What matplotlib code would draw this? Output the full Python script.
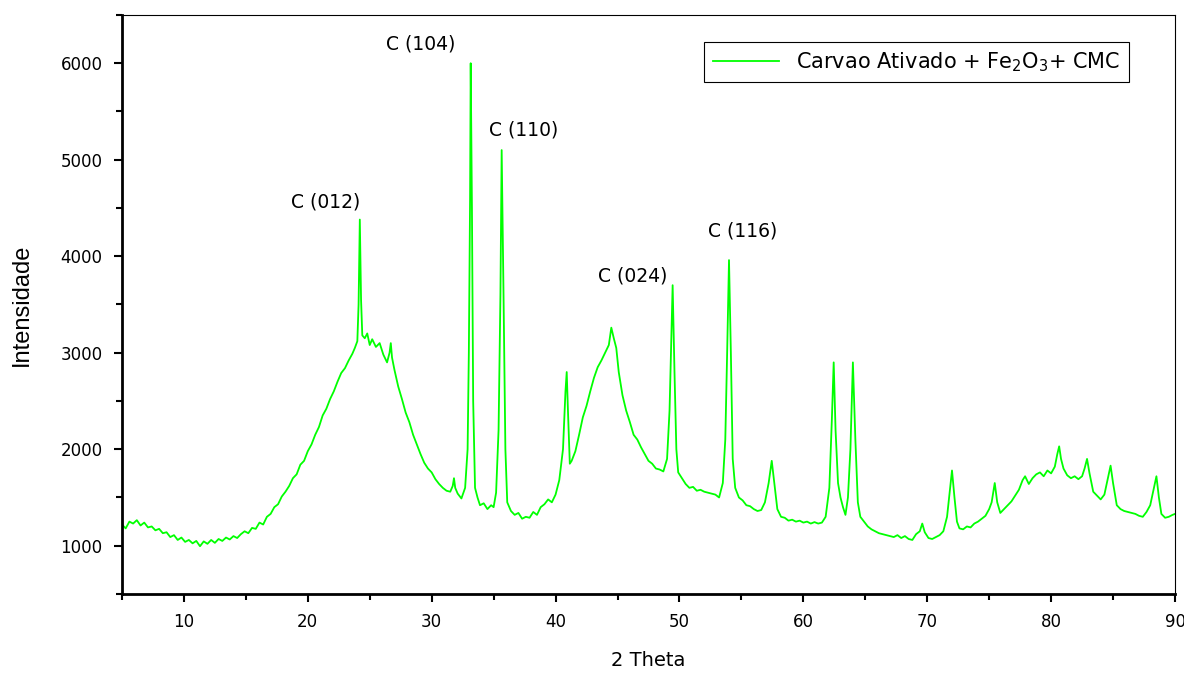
"""Difratograma de raios X - Carvao Ativado + Fe2O3 + CMC."""

import matplotlib
matplotlib.use("Agg")
import matplotlib.pyplot as plt
from matplotlib.ticker import MultipleLocator

two_theta = [
    5.0, 5.3, 5.6, 5.9, 6.2, 6.5, 6.8, 7.1, 7.4, 7.7, 8.0, 8.3, 8.6, 8.9,
    9.2, 9.5, 9.8, 10.1, 10.4, 10.7, 11.0, 11.3, 11.6, 11.9, 12.2, 12.5,
    12.8, 13.1, 13.4, 13.7, 14.0, 14.3, 14.6, 14.9, 15.2, 15.5, 15.8, 16.1,
    16.4, 16.7, 17.0, 17.3, 17.6, 17.9, 18.2, 18.5, 18.8, 19.1, 19.4, 19.7,
    20.0, 20.3, 20.6, 20.9, 21.2, 21.5, 21.8, 22.1, 22.4, 22.7, 23.0, 23.3,
    23.6, 23.8, 24.0, 24.1, 24.2, 24.3, 24.4, 24.6, 24.8, 25.0, 25.2, 25.5,
    25.8, 26.1, 26.4, 26.6, 26.7, 26.8, 27.0, 27.3, 27.6, 27.9, 28.2, 28.5,
    28.8, 29.1, 29.4, 29.7, 30.0, 30.3, 30.6, 30.9, 31.2, 31.5, 31.7, 31.8,
    31.9, 32.1, 32.4, 32.7, 32.9, 33.0, 33.1, 33.15, 33.25, 33.35, 33.5,
    33.7, 33.9, 34.2, 34.5, 34.8, 35.0, 35.2, 35.4, 35.55, 35.65, 35.8,
    35.95, 36.1, 36.4, 36.7, 37.0, 37.3, 37.6, 37.9, 38.2, 38.5, 38.8, 39.1,
    39.4, 39.7, 40.0, 40.3, 40.6, 40.8, 40.9, 41.0, 41.15, 41.3, 41.6, 41.9,
    42.2, 42.5, 42.8, 43.1, 43.4, 43.7, 44.0, 44.3, 44.5, 44.7, 44.9, 45.1,
    45.4, 45.7, 46.0, 46.3, 46.6, 46.9, 47.2, 47.5, 47.8, 48.1, 48.4, 48.7,
    49.0, 49.2, 49.35, 49.45, 49.6, 49.75, 49.9, 50.2, 50.5, 50.8, 51.1,
    51.4, 51.7, 52.0, 52.3, 52.6, 52.9, 53.2, 53.5, 53.7, 53.85, 54.0,
    54.15, 54.3, 54.5, 54.8, 55.1, 55.4, 55.7, 56.0, 56.3, 56.6, 56.9, 57.2,
    57.45, 57.7, 57.9, 58.2, 58.5, 58.8, 59.1, 59.4, 59.7, 60.0, 60.3, 60.6,
    60.9, 61.2, 61.5, 61.8, 62.1, 62.3, 62.45, 62.6, 62.8, 63.0, 63.2, 63.4,
    63.6, 63.8, 64.0, 64.2, 64.4, 64.6, 64.9, 65.2, 65.5, 65.8, 66.1, 66.4,
    66.7, 67.0, 67.3, 67.6, 67.9, 68.2, 68.5, 68.8, 69.1, 69.4, 69.6, 69.8,
    70.1, 70.4, 70.7, 71.0, 71.3, 71.6, 71.85, 72.0, 72.2, 72.4, 72.6, 72.9,
    73.2, 73.5, 73.8, 74.1, 74.4, 74.7, 75.0, 75.2, 75.45, 75.65, 75.9,
    76.2, 76.5, 76.8, 77.1, 77.4, 77.7, 77.9, 78.2, 78.5, 78.8, 79.1, 79.4,
    79.7, 80.0, 80.3, 80.5, 80.65, 80.8, 81.0, 81.3, 81.6, 81.9, 82.2, 82.5,
    82.7, 82.9, 83.1, 83.4, 83.7, 84.0, 84.3, 84.5, 84.8, 85.0, 85.3, 85.6,
    85.9, 86.2, 86.5, 86.8, 87.1, 87.4, 87.7, 88.0, 88.3, 88.5, 88.7, 88.9,
    89.2, 89.5, 89.8, 90.0,
]
intensidade = [
    1220, 1180, 1250, 1230, 1265, 1210, 1240, 1190, 1200, 1160, 1175, 1130,
    1140, 1090, 1110, 1060, 1085, 1040, 1060, 1025, 1050, 995, 1045, 1020,
    1060, 1030, 1070, 1050, 1085, 1065, 1100, 1080, 1120, 1150, 1130, 1185,
    1175, 1240, 1220, 1300, 1330, 1400, 1430, 1510, 1560, 1620, 1700, 1740,
    1840, 1880, 1980, 2050, 2150, 2230, 2350, 2420, 2520, 2600, 2700, 2790,
    2840, 2920, 2990, 3050, 3120, 3500, 4380, 3550, 3180, 3150, 3200, 3080,
    3140, 3060, 3100, 2980, 2900, 3000, 3100, 2950, 2820, 2650, 2520, 2380,
    2280, 2150, 2050, 1950, 1860, 1800, 1760, 1690, 1640, 1600, 1570, 1560,
    1620, 1700, 1600, 1540, 1490, 1600, 2000, 3000, 4600, 6000, 4500, 2500,
    1600, 1500, 1420, 1440, 1380, 1420, 1400, 1550, 2200, 3600, 5100, 3600,
    2000, 1450, 1360, 1320, 1340, 1280, 1300, 1290, 1350, 1320, 1400, 1430,
    1480, 1450, 1530, 1680, 2000, 2600, 2800, 2400, 1850, 1880, 1980, 2150,
    2330, 2450, 2600, 2740, 2850, 2920, 3000, 3080, 3260, 3150, 3050, 2800,
    2560, 2400, 2280, 2150, 2100, 2020, 1950, 1880, 1850, 1800, 1790, 1770,
    1900, 2400, 3200, 3700, 2800, 2000, 1760, 1700, 1640, 1600, 1610, 1570,
    1580, 1560, 1550, 1540, 1530, 1500, 1650, 2100, 3000, 3960, 3000, 1900,
    1600, 1500, 1470, 1420, 1410, 1380, 1360, 1370, 1450, 1650, 1880, 1600,
    1380, 1300, 1290, 1260, 1270, 1250, 1260, 1240, 1250, 1230, 1245, 1230,
    1240, 1300, 1600, 2300, 2900, 2200, 1650, 1500, 1400, 1320, 1500, 2000,
    2900, 2100, 1450, 1300, 1250, 1200, 1170, 1150, 1130, 1120, 1110, 1100,
    1090, 1110, 1080, 1100, 1070, 1060, 1120, 1150, 1230, 1140, 1080, 1070,
    1090, 1110, 1150, 1300, 1600, 1780, 1500, 1250, 1180, 1170, 1200, 1190,
    1230, 1250, 1280, 1310, 1380, 1450, 1650, 1450, 1340, 1380, 1420, 1460,
    1520, 1580, 1680, 1720, 1640, 1700, 1740, 1760, 1720, 1780, 1750, 1820,
    1950, 2030, 1900, 1800, 1730, 1700, 1720, 1690, 1720, 1800, 1900, 1750,
    1560, 1520, 1480, 1530, 1650, 1830, 1650, 1420, 1380, 1360, 1350, 1340,
    1330, 1310, 1300, 1350, 1420, 1600, 1720, 1500, 1330, 1290, 1300, 1320,
    1330,
]

# Indexacao dos picos
picos_rotulos = ["C (012)", "C (104)", "C (110)", "C (024)", "C (116)"]
picos_x = [21.4, 29.1, 37.4, 46.2, 55.1]
picos_y = [4560, 6200, 5310, 3800, 4260]

rotulo_serie = "Carvao Ativado + Fe$_2$O$_3$+ CMC"

fig = plt.figure(figsize=(11.84, 6.75), dpi=100)
ax = fig.add_axes([0.1030, 0.120, 0.8894, 0.8578])

ax.plot(two_theta, intensidade, color="#00ff00", linewidth=1.3, label=rotulo_serie)

for rotulo, px, py in zip(picos_rotulos, picos_x, picos_y):
    ax.text(px, py, rotulo, fontsize=13.5, ha="center", va="center")

ax.set_xlim(5, 90)
ax.set_ylim(500, 6500)
ax.xaxis.set_major_locator(MultipleLocator(10))
ax.xaxis.set_minor_locator(MultipleLocator(5))
ax.yaxis.set_minor_locator(MultipleLocator(500))
ax.set_yticks([1000, 2000, 3000, 4000, 5000, 6000])

ax.tick_params(which="both", direction="out", top=False, right=False, labelsize=12)
ax.tick_params(which="major", length=6, width=1.5, pad=8)
ax.tick_params(which="minor", length=4, width=1.5)

ax.spines["left"].set_linewidth(2)
ax.spines["bottom"].set_linewidth(2)
ax.spines["top"].set_linewidth(0.8)
ax.spines["right"].set_linewidth(0.8)

ax.set_xlabel("2 Theta", fontsize=14, labelpad=14)
ax.set_ylabel("Intensidade", fontsize=17, family="Liberation Sans", labelpad=20)

leg = ax.legend(loc="upper right", bbox_to_anchor=(0.956, 0.953), borderaxespad=0,
                fontsize=15, fancybox=False, edgecolor="black", handlelength=3.2,
                framealpha=1)
leg.get_frame().set_linewidth(0.8)

fig.savefig("out.png", dpi=100)
plt.close(fig)
